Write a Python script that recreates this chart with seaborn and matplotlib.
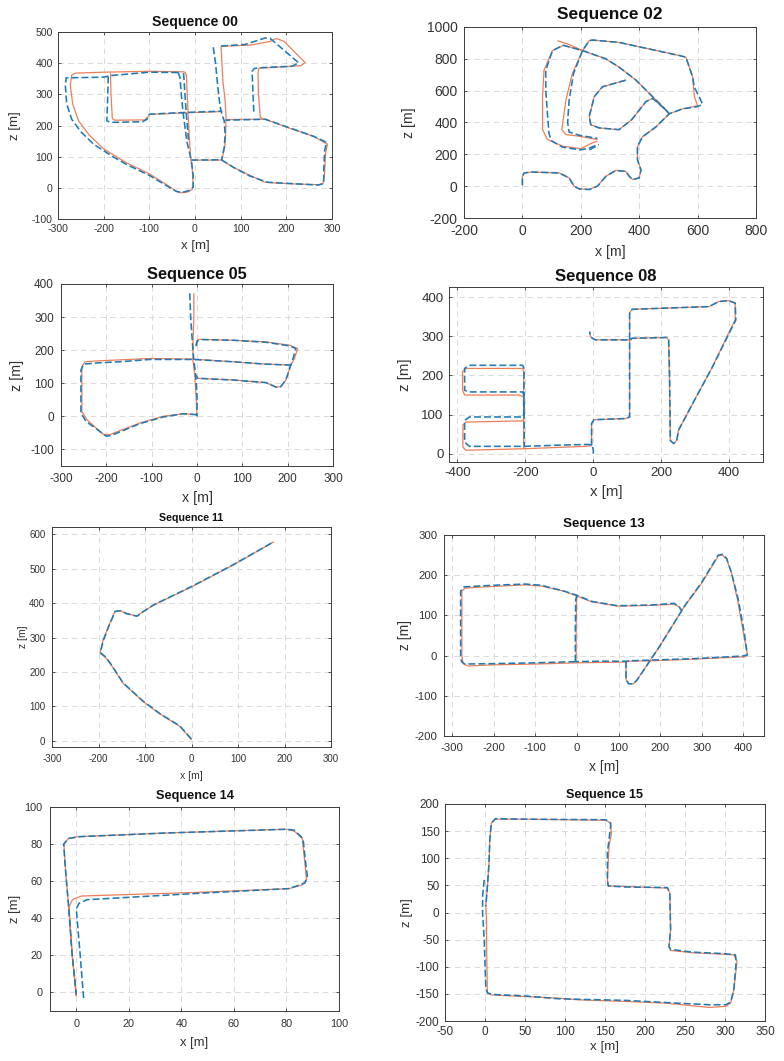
import numpy as np
import pandas as pd
import matplotlib
matplotlib.use("Agg")
import matplotlib.pyplot as plt
import seaborn as sns

# ---------------- data (x [m], z [m]) ----------------
SEQ00_EST = [
    [(-23,372),(-100,374),(-200,371),(-262,368),(-270,362),(-273,330),(-268,270),(-255,215),(-232,170),(-200,125),(-150,80),(-100,45),(-60,8),(-42,-10),(-30,-16),(-15,-13),(-6,-4),(-4,10),(-6,60),(-9,89)],
    [(-23,372),(-19,364),(-17,300),(-15,236),(-12,150),(-9,89)],
    [(-185,368),(-184,300),(-181,222),(-176,217),(-110,218),(-103,228),(-98,236),(-60,238),(-16,241),(30,243),(60,245)],
    [(-9,89),(20,89),(58,89),(85,65),(120,40),(154,18),(180,15),(230,12),(270,10),(280,13),(284,50),(286,110),(290,140),(260,165),(200,195),(154,220),(110,220),(67,219)],
    [(57,454),(59,400),(61,343),(66,280),(68,226),(67,170),(65,130),(59,89)],
    [(57,454),(122,458),(165,470),(178,479),(195,470),(241,402),(232,392),(180,387),(140,384),(138,370),(139,300),(143,226),(150,220)],
]
SEQ00_GT = [
    [(-37,370),(-100,371),(-186,360),(-200,355),(-282,353),(-284,330),(-281,270),(-270,220),(-250,180),(-222,140),(-180,100),(-150,75),(-100,40),(-60,5),(-40,-12),(-28,-15),(-12,-8),(-4,2),(-4,40),(-8,89)],
    [(-37,370),(-33,355),(-30,300),(-26,240),(-18,150),(-10,100),(-8,89)],
    [(-25,368),(-22,300),(-19,236),(-14,150)],
    [(-190,357),(-191,300),(-193,215),(-185,210),(-115,212),(-105,220),(-100,236),(-50,240),(0,243),(58,246)],
    [(-8,89),(58,90),(85,65),(120,38),(158,18),(230,12),(270,9),(282,14),(282,60),(284,120),(288,146),(260,165),(154,220),(67,217)],
    [(40,451),(45,400),(50,323),(55,260),(60,231),(64,215),(66,170),(64,130),(58,89)],
    [(57,455),(110,460),(154,481),(165,479),(227,401),(212,390),(150,386),(130,383),(125,374),(127,300),(129,236)],
]

SEQ02_EST = [
    [(0,5),(0,62),(6,83),(34,89),(126,83),(160,52),(177,0),(194,-17),(229,-21),(257,0),(286,62),(320,99),(354,93),(366,62),(377,41),(400,52),(406,103),(394,166),(394,248),(411,310),(457,372),(503,455),(549,486),(600,505),(589,562),(583,686),(560,810),(537,821),(331,903),(240,918),(229,914),(206,852),(171,707),(149,541),(135,355),(149,324),(194,314),(257,293)],
    [(257,283),(240,273),(200,235),(137,252),(86,293),(69,355),(69,562),(74,728),(103,852),(140,885),(206,852),(286,800),(331,748),(389,666),(446,562),(480,500),(503,455)],
    [(120,914),(160,890),(206,852)],
    [(354,666),(274,624),(246,562),(229,438),(234,386),(263,366),(331,355),(374,417),(423,531),(446,552),(491,479),(503,455)],
]
SEQ02_GT = [
    [(0,5),(0,62),(6,83),(34,89),(126,83),(160,52),(177,0),(194,-17),(229,-21),(257,0),(286,62),(320,99),(354,93),(366,62),(377,41),(400,52),(406,103),(394,166),(394,248),(411,310),(457,372),(503,455),(549,486),(600,500),(617,515),(606,560),(589,620),(583,686),(560,810),(537,821),(331,903),(240,918),(229,914),(206,852),(175,707),(160,541),(155,400),(160,340),(194,320),(257,300)],
    [(250,255),(230,240),(200,228),(137,245),(100,285),(91,330),(86,450),(80,600),(80,728),(103,852),(140,885),(206,852),(286,800),(331,748),(389,666),(446,562),(480,500),(503,455)],
    [(230,228),(262,262)],
    [(354,666),(274,624),(246,562),(229,438),(234,386),(263,366),(331,355),(374,417),(423,531),(446,552),(491,479),(503,455)],
]

SEQ05_EST = [
    [(-7,372),(-7,300),(-9,220),(-9,170),(-5,125),(-2,60),(0,0)],
    [(0,5),(-30,8),(-75,0),(-126,-20),(-192,-55),(-206,-55),(-243,-10),(-254,15),(-254,150),(-247,165),(-214,168),(-104,175),(-9,173),(79,165),(150,158),(207,155)],
    [(-3,215),(0,230),(6,233),(79,230),(152,225),(204,215),(222,205),(215,175),(207,155),(196,110),(185,90),(175,88),(152,102),(79,110),(2,115),(-4,125)],
]
SEQ05_GT = [
    [(-16,372),(-14,300),(-10,220),(-7,170),(-3,125),(0,60),(0,0)],
    [(0,5),(-30,8),(-75,-2),(-126,-22),(-190,-58),(-200,-60),(-245,-15),(-256,10),(-256,140),(-250,158),(-214,162),(-170,165),(-104,172),(-9,172),(79,165),(150,158),(207,155)],
    [(-2,212),(1,228),(10,232),(79,230),(152,224),(204,213),(218,205),(212,175),(207,155),(196,110),(185,90),(175,88),(152,102),(79,110),(2,115),(-3,125)],
]

SEQ08_EST = [
    [(-11,312),(-8,300),(-3,295),(7,291),(110,291),(114,295),(217,297),(222,291),(224,200),(227,34),(237,26),(246,34),(251,60),(300,140),(350,220),(403,316),(418,342),(418,385),(399,391),(370,389),(341,376),(114,369),(107,359),(107,200),(107,94),(95,90),(2,87),(-5,77),(-5,21),(-22,19),(-199,13),(-375,9),(-384,17),(-384,73),(-375,81),(-208,84),(-203,94),(-205,145),(-218,150),(-379,150),(-385,162),(-385,210),(-375,218),(-208,218),(-205,210),(-205,100),(-205,13)],
]
SEQ08_GT = [
    [(0,0),(0,10),(-3,21),(-13,24),(-100,22),(-203,19),(-365,19),(-379,30),(-379,85),(-365,94),(-208,94),(-205,100),(-205,150),(-208,158),(-365,158),(-379,162),(-379,218),(-365,226),(-208,226),(-204,218),(-204,100),(-203,21)],
    [(-5,21),(-5,77),(2,87),(95,90),(107,94),(107,200),(107,359),(114,369),(341,376),(370,389),(399,391),(418,385),(420,342),(405,316),(350,220),(300,140),(251,60),(246,34),(237,26),(227,34),(225,200),(222,291),(217,297),(114,295),(110,291),(7,291),(-3,295),(-8,300),(-11,312)],
]

SEQ11_EST = [
    [(0,3),(-25,42),(-68,78),(-104,114),(-147,167),(-175,225),(-186,244),(-197,254),(-190,293),(-179,331),(-165,375),(-154,378),(-140,370),(-118,362),(-104,375),(-82,394),(0,447),(89,510),(177,578)],
]
SEQ11_GT = [
    [(0,5),(-25,43),(-68,79),(-104,115),(-147,168),(-175,226),(-186,245),(-196,256),(-189,294),(-178,332),(-164,376),(-153,378),(-139,369),(-117,362),(-103,376),(-81,395),(0,448),(89,511),(173,575)],
]

SEQ13_EST = [
    [(-2,-18),(-100,-21),(-205,-23),(-262,-26),(-274,-20),(-277,0),(-277,160),(-270,168),(-200,172),(-125,176),(-86,173),(-30,160),(0,148),(35,134),(98,123),(180,125),(234,128),(246,121),(252,112)],
    [(-2,-18),(-2,60),(-1,140),(0,148)],
    [(118,-16),(118,-60),(124,-70),(136,-70),(145,-60),(200,25),(260,125),(300,180),(340,248),(350,250),(360,240),(372,205),(386,140),(400,60),(410,3),(405,-3),(274,-9),(180,-13),(125,-14),(118,-16),(60,-17),(-2,-18)],
]
SEQ13_GT = [
    [(-4,-15),(-100,-18),(-205,-20),(-270,-21),(-278,-15),(-280,0),(-280,160),(-272,171),(-200,175),(-125,178),(-86,175),(-30,160),(0,150),(35,135),(98,124),(180,126),(234,130),(246,121),(252,112)],
    [(-4,-15),(-4,60),(-3,140),(0,150)],
    [(118,-14),(118,-60),(124,-70),(136,-70),(145,-60),(200,25),(260,125),(300,182),(340,250),(350,252),(360,242),(372,205),(388,140),(402,60),(410,2),(400,-1),(274,-8),(180,-11),(125,-13),(118,-14),(60,-14),(-4,-15)],
]

SEQ14_EST = [
    [(0,-2),(-1.6,21),(-2.8,46),(-1.5,50),(2,52),(47,54),(81,56),(86,58),(87.6,61),(87,70),(86,83),(83,87),(80,88),(34.5,86),(1,84),(-3,83),(-4.7,80),(-4.2,68),(-2.9,46),(-1.6,21),(0,-2)],
]
SEQ14_GT = [
    [(2.8,-3),(1.5,20),(0,45),(1,48),(4,50),(47,53.5),(81,56),(87,59),(88,62),(87.3,70),(86.3,83),(83,87.5),(80,88),(34.5,86),(1,84),(-3,83),(-4.8,80),(-4.2,68),(-2.9,46),(-1.6,21),(0,-1)],
]

SEQ15_EST = [
    [(3,-149),(2,-63),(2,-14),(1,11),(3,48),(5,91),(6,134),(8,165),(13,172),(51,172),(151,170),(157,165),(158,146),(155,122),(153,60),(154,49),(176,48),(228,45),(231,36),(232,-32),(230,-63),(232,-70),(259,-74),(311,-78),(315,-90),(311,-143),(307,-167),(301,-173),(280,-175),(226,-167),(176,-164),(117,-161),(92,-158),(51,-155),(9,-152),(3,-149)],
]
SEQ15_GT = [
    [(-1,60),(-3,30),(-3,-1),(-1,-50),(1,-137),(3,-148),(9,-151),(51,-154),(92,-159),(117,-160),(176,-162),(226,-166),(280,-170),(301,-170),(307,-165),(311,-143),(314,-90),(313,-78),(300,-76),(259,-73),(232,-68),(230,-63),(232,-32),(231,36),(228,46),(176,47),(154,49),(153,60),(153,110),(157,159),(157,165),(151,171),(51,172),(13,173),(8,165),(6,134),(5,91),(3,48),(1,11)],
]

TITLES = ["Sequence 00", "Sequence 02", "Sequence 05", "Sequence 08",
          "Sequence 11", "Sequence 13", "Sequence 14", "Sequence 15"]

# ---------------- style ----------------
sns.set_theme(style="white")
plt.rcParams['font.family'] = ['Liberation Sans', 'DejaVu Sans']
plt.rcParams['lines.scale_dashes'] = False
plt.rcParams['axes.unicode_minus'] = False

EST_COLOR = '#EF7E56'
GT_COLOR = '#1F7BB8'
AX_COLOR = '#3c3c3c'
TXT_COLOR = '#333333'

W, H = 784, 1061
fig = plt.figure(figsize=(W / 100, H / 100), dpi=100)
fig.patch.set_facecolor('white')

# box: (left, top, right, bottom) px; ty/xly: title / xlabel centre y px; ylx: ylabel centre x px
panels = [
    dict(data=(SEQ00_EST, SEQ00_GT), box=(58, 32, 332, 219), xlim=(-300, 300), ylim=(-100, 500),
         xt=range(-300, 301, 100), yt=range(-100, 501, 100), fs=7.6, tfs=10.2, lfs=9.5,
         pad=3.7, ty=21.7, xly=246, ylx=15),
    dict(data=(SEQ02_EST, SEQ02_GT), box=(464, 27, 756, 218), xlim=(-200, 800), ylim=(-200, 1000),
         xt=range(-200, 801, 200), yt=range(-200, 1001, 200), fs=10, tfs=12.4, lfs=10.2,
         pad=4.6, ty=14, xly=252, ylx=409),
    dict(data=(SEQ05_EST, SEQ05_GT), box=(61, 284, 333, 466), xlim=(-300, 300), ylim=(-150, 400),
         xt=range(-300, 301, 100), yt=range(-100, 401, 100), fs=8.5, tfs=11.8, lfs=10.3,
         pad=5.0, ty=274, xly=498, ylx=17),
    dict(data=(SEQ08_EST, SEQ08_GT), box=(449, 287, 763, 462), xlim=(-425, 500), ylim=(-21, 426),
         xt=range(-400, 401, 200), yt=range(0, 401, 100), fs=9.6, tfs=12, lfs=10.8,
         pad=3.9, ty=277, xly=492, ylx=405),
    dict(data=(SEQ11_EST, SEQ11_GT), box=(52, 527, 331, 747), xlim=(-300, 300), ylim=(-18, 621),
         xt=range(-300, 301, 100), yt=range(0, 601, 100), fs=7.0, tfs=7.7, lfs=7.5,
         pad=4.8, ty=517.7, xly=776, ylx=23),
    dict(data=(SEQ13_EST, SEQ13_GT), box=(444, 535, 764, 736), xlim=(-320, 450), ylim=(-200, 300),
         xt=range(-300, 401, 100), yt=range(-200, 301, 100), fs=8.2, tfs=9.6, lfs=10,
         pad=4.8, ty=523.7, xly=767, ylx=405),
    dict(data=(SEQ14_EST, SEQ14_GT), box=(50, 807, 339, 1011), xlim=(-10, 100), ylim=(-10, 100),
         xt=range(0, 101, 20), yt=range(0, 101, 20), fs=7.8, tfs=9.2, lfs=9.4,
         pad=5.5, ty=795.7, xly=1043, ylx=15),
    dict(data=(SEQ15_EST, SEQ15_GT), box=(445, 804, 765, 1021), xlim=(-50, 350), ylim=(-200, 200),
         xt=range(-50, 351, 50), yt=range(-200, 201, 50), fs=8.5, tfs=9.1, lfs=9.6,
         pad=3.9, ty=795.3, xly=1047, ylx=407),
]


def draw_segments(ax, segs, color, lw, dashed):
    for seg in segs:
        df = pd.DataFrame(seg, columns=['x', 'z'])
        n0 = len(ax.lines)
        sns.lineplot(data=df, x='x', y='z', sort=False, estimator=None, ax=ax,
                     color=color, linewidth=lw)
        for ln in ax.lines[n0:]:
            if dashed:
                ln.set_dashes([5.0, 2.2])
            ln.set_solid_capstyle('butt')
            ln.set_dash_capstyle('butt')


for title, p in zip(TITLES, panels):
    l, t, r, b = p['box']
    wpx, hpx = r - l, b - t
    ax = fig.add_axes([l / W, 1 - b / H, wpx / W, hpx / H])
    ax.set_facecolor('white')
    est, gt = p['data']
    draw_segments(ax, est, EST_COLOR, 0.9, False)
    draw_segments(ax, gt, GT_COLOR, 1.15, True)

    ax.set_xlim(*p['xlim'])
    ax.set_ylim(*p['ylim'])
    ax.set_xticks(list(p['xt']))
    ax.set_yticks(list(p['yt']))
    ax.grid(True, color='#d4d4d4', linestyle=(0, (4, 3)), linewidth=0.6)
    ax.set_axisbelow(True)
    for s in ax.spines.values():
        s.set_visible(True)
        s.set_color(AX_COLOR)
        s.set_linewidth(0.7)
    ax.tick_params(direction='in', length=2.5, width=0.6, color=AX_COLOR,
                   labelsize=p['fs'], labelcolor=TXT_COLOR, pad=p['pad'],
                   top=True, right=True, bottom=True, left=True)

    ax.set_title(title, fontsize=p['tfs'], fontweight='bold', color='#111111',
                 y=(b - p['ty']) / hpx, pad=0, va='center')
    ax.set_xlabel('x [m]', fontsize=p['lfs'], color=TXT_COLOR)
    ax.set_ylabel('z [m]', fontsize=p['lfs'], color=TXT_COLOR)
    ax.xaxis.set_label_coords(0.5, (b - p['xly']) / hpx)
    ax.xaxis.label.set_va('center')
    ax.yaxis.set_label_coords((p['ylx'] - l) / wpx, 0.5)
    ax.yaxis.label.set_va('center')

fig.savefig('out.png', dpi=100, facecolor='white')
